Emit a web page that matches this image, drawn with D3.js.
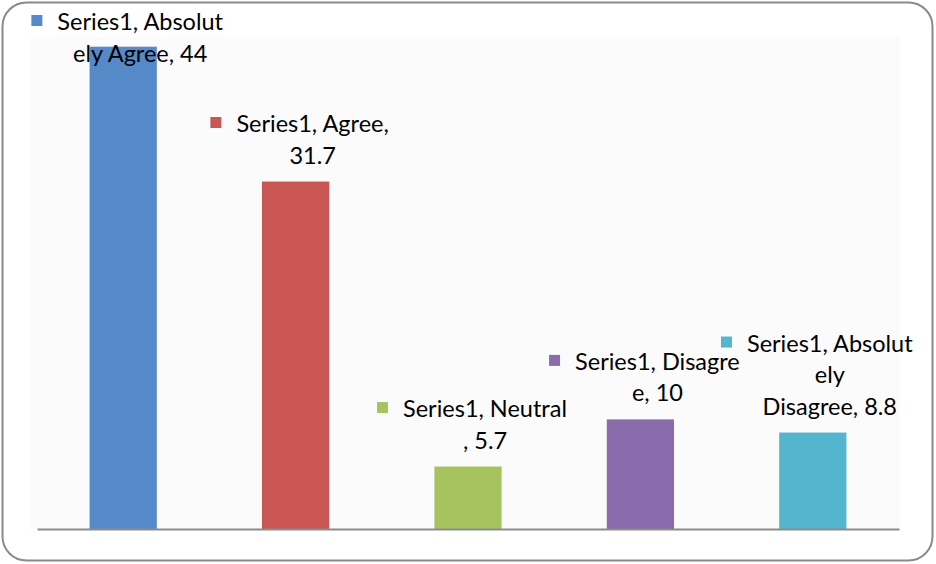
<!DOCTYPE html>
<html>
<head>
<meta charset="utf-8">
<script src="https://cdn.jsdelivr.net/npm/d3@7"></script>
<style>
  html, body { margin: 0; padding: 0; background: #fff; }
  svg { display: block; }
  text { font-family: Lato, "Liberation Sans", sans-serif; fill: #000; }
</style>
</head>
<body>
<svg id="chart" width="936" height="564"></svg>
<script>
// Survey responses, single series
const seriesName = "Series1";
const categories = ["Absolutely Agree", "Agree", "Neutral", "Disagree", "Absolutely Disagree"];
const values = [44, 31.7, 5.7, 10, 8.8];
const colors = ["#5689C7", "#C95652", "#A5C45F", "#8A6BAB", "#54B5CF"];
// Character offsets where each data label wraps onto a new line
const labelBreaks = [[16], [15], [16], [16], [16, 19]];

const W = 936, H = 564;
const svg = d3.select("#chart");

// Outer rounded frame
svg.append("rect")
  .attr("x", 2.5).attr("y", 2.5)
  .attr("width", 930).attr("height", 558)
  .attr("rx", 24).attr("ry", 24)
  .attr("fill", "#fff")
  .attr("stroke", "#8a8a8a")
  .attr("stroke-width", 2);

const plot = { left: 37, right: 899, top: 37, bottom: 529 };

// Faint plot-area fill
svg.append("rect")
  .attr("x", 30).attr("y", plot.top)
  .attr("width", 870).attr("height", plot.bottom - plot.top)
  .attr("fill", "#fbfbfb");

const x = d3.scaleBand()
  .domain(categories)
  .range([plot.left, plot.right])
  .paddingInner(0.61)
  .paddingOuter(0.305);

const y = d3.scaleLinear()
  .domain([0, 44])
  .range([plot.bottom, 46.7]);

// Bars
svg.append("g").selectAll("rect")
  .data(categories)
  .join("rect")
  .attr("x", d => x(d))
  .attr("width", x.bandwidth())
  .attr("y", (d, i) => y(values[i]))
  .attr("height", (d, i) => y(0) - y(values[i]))
  .attr("fill", (d, i) => colors[i]);

// Category axis: baseline only
const axis = svg.append("g")
  .attr("transform", `translate(0,${plot.bottom})`)
  .call(d3.axisBottom(x).tickSize(0).tickFormat(""));
axis.select(".domain").attr("stroke", "#8c8c8c").attr("stroke-width", 2);

// Data labels: "series, category, value" with a colour key
const fontSize = 23.5, lineH = 31.5;
const labels = svg.append("g").attr("font-size", fontSize);

categories.forEach((cat, i) => {
  const full = `${seriesName}, ${cat}, ${values[i]}`;
  const cuts = [0, ...labelBreaks[i], full.length];
  const lines = [];
  for (let k = 0; k < cuts.length - 1; k++) lines.push(full.slice(cuts[k], cuts[k + 1]).trim());

  const cx = x(cat) + x.bandwidth() / 2 + 17;
  let lastBase = y(values[i]) - 18;
  let firstBase = lastBase - (lines.length - 1) * lineH;
  if (firstBase < 30) { firstBase = 30; }

  const g = labels.append("g");
  const t = g.append("text").attr("text-anchor", "middle");
  lines.forEach((ln, k) => {
    t.append("tspan").attr("x", cx).attr("y", firstBase + k * lineH).text(ln);
  });
  const bb = t.node().getBBox();
  const keyRight = bb.x - 15;
  g.append("rect")
    .attr("x", keyRight - 11).attr("y", firstBase - 15)
    .attr("width", 11).attr("height", 11)
    .attr("fill", colors[i]);
});
</script>
</body>
</html>
